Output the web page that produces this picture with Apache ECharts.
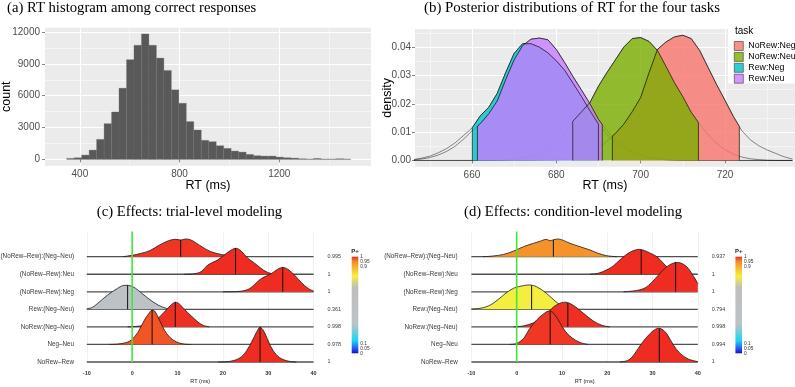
<!DOCTYPE html>
<html><head><meta charset="utf-8">
<script src="https://cdn.jsdelivr.net/npm/echarts@6/dist/echarts.min.js"></script>
<style>html,body{margin:0;padding:0;background:#fff}#c{width:795px;height:387px}</style>
</head><body><div id="c"></div>
<script>
// ---------- (a) histogram ----------
const binWidth = 30;
const histCenters = [362,392,422,452,482,512,542,572,602,632,662,692,722,752,782,812,842,872,902,932,962,992,1022,1052,1082,1112,1142,1172,1202,1232,1262,1292,1322,1352,1382,1412,1442,1472];
const histCounts  = [95,160,410,880,1890,3370,4470,6710,9390,10740,11810,10740,9540,8380,6550,5290,3560,2770,1800,1670,1290,1040,790,690,470,350,315,315,220,160,125,65,35,95,35,35,65,35];
const histXTicks = [400,800,1200];
const histXMinor = [600,1000,1400];
const histYTicks = [0,3000,6000,9000,12000];
const histYMinor = [1500,4500,7500,10500];

// ---------- (b) posterior densities ----------
const tasks = ['NoRew:Neg','NoRew:Neu','Rew:Neg','Rew:Neu'];
const densX = [646,648,650,652,654,656,658,660,662,664,666,668,670,672,674,676,678,680,682,684,686,688,690,692,694,696,698,700,702,704,706,708,710,712,714,716,718,720,722,724,726,728,730,732,734,736];
const densNoRewNeg = [0,0,0,0,0,0,0,0,0,0,0,0,0,0,0,0.0001,0.0001,0.0002,0.0004,0.0009,0.0016,0.0027,0.0042,0.0068,0.0095,0.0128,0.0172,0.0222,0.0310,0.0392,0.0418,0.0436,0.0442,0.0430,0.0388,0.0328,0.0268,0.0212,0.0155,0.0105,0.0073,0.0052,0.0037,0.0025,0.0013,0.0005];
const densNoRewNeu = [0,0,0,0,0,0,0,0,0,0,0.0001,0.0002,0.0004,0.0008,0.0015,0.0025,0.0040,0.0062,0.0095,0.0140,0.0172,0.0205,0.0262,0.0310,0.0355,0.0400,0.0430,0.0434,0.0420,0.0388,0.0332,0.0275,0.0225,0.0170,0.0128,0.0090,0.0060,0.0038,0.0022,0.0012,0.0006,0.0003,0.0001,0,0,0];
const densRewNeg = [0.0003,0.0008,0.0015,0.0027,0.0042,0.0062,0.0088,0.0114,0.0158,0.0188,0.0237,0.0310,0.0378,0.0412,0.0412,0.0400,0.0380,0.0352,0.0318,0.0272,0.0225,0.0175,0.0128,0.0092,0.0064,0.0043,0.0028,0.0017,0.0010,0.0005,0.0002,0.0001,0,0,0,0,0,0,0,0,0,0,0,0,0,0];
const densRewNeu = [0.0002,0.0005,0.0010,0.0019,0.0032,0.0050,0.0075,0.0104,0.0130,0.0165,0.0210,0.0285,0.0355,0.0405,0.0428,0.0432,0.0426,0.0392,0.0345,0.0295,0.0248,0.0200,0.0145,0.0105,0.0075,0.0052,0.0034,0.0022,0.0013,0.0007,0.0003,0.0001,0,0,0,0,0,0,0,0,0,0,0,0,0,0];
const ciLow   = [693.3, 683.9, 660.1, 661.3];
const ciHigh  = [723.4, 713.7, 690.0, 690.9];
const ciLowH  = [0.0086, 0.0138, 0.0116, 0.0121];
const ciHighH = [0.0120, 0.0134, 0.0128, 0.0127];
const densXTicks = [660,680,700,720];
const densXMinor = [650,670,690,710,730];
const densYTicks = [0,0.01,0.02,0.03,0.04];
const densYMinor = [0.005,0.015,0.025,0.035,0.045];

// ---------- (c)/(d) ridgelines (top row first) ----------
const rowNames = ['(NoRew–Rew):(Neg–Neu)','(NoRew–Rew):Neu','(NoRew–Rew):Neg','Rew:(Neg–Neu)','NoRew:(Neg–Neu)','Neg–Neu','NoRew–Rew'];
const pTrial = [0.995, 1, 1, 0.361, 0.998, 0.978, 1];
const pCond  = [0.937, 1, 1, 0.794, 0.998, 0.994, 1];
const medTrial = [10.7, 22.8, 33.2, -1.0, 9.5, 4.4, 28.2];
const medCond  = [8.1, 27.5, 35.1, 3.3, 11.3, 7.4, 31.5];
const ridgeTrial = [
  [[-2,0],[-1,0.038],[0,0.076],[2,0.19],[4,0.36],[6,0.66],[8,0.91],[9.5,0.99],[10.7,0.95],[11.8,1.01],[12.8,0.97],[14,0.80],[15.6,0.53],[17.4,0.28],[19.6,0.13],[21.8,0.038],[24,0]],
  [[11.5,0],[13.5,0.02],[15.2,0.15],[16.7,0.53],[18.9,0.82],[21.1,1.25],[22.8,1.48],[24,1.33],[25.5,0.91],[27,0.63],[28.4,0.34],[29.5,0.15],[30.7,0.04],[32,0]],
  [[20,0],[23,0.01],[25.5,0.13],[27,0.42],[28.5,0.76],[30.7,1.04],[32.1,1.29],[33.2,1.39],[34.3,1.29],[35.8,0.95],[37.3,0.53],[38.8,0.19],[40,0.04]],
  [[-10,0.04],[-8.9,0.095],[-7.6,0.34],[-5.4,0.82],[-3.2,1.20],[-2.1,1.35],[-1,1.37],[0.15,1.29],[1.25,1.10],[3.5,0.63],[5.7,0.25],[7.5,0.057],[9,0]],
  [[-1,0],[0.5,0.02],[2.7,0.095],[4.9,0.32],[7.1,0.85],[8.5,1.23],[9.5,1.41],[10.4,1.31],[11.5,1.01],[13,0.63],[14.5,0.28],[15.6,0.095],[17,0]],
  [[-5,0],[-3.2,0.02],[-1.3,0.11],[-0.2,0.25],[1.25,0.68],[2.7,1.39],[3.8,1.80],[4.4,1.96],[5.1,1.86],[6,1.39],[7.1,0.82],[8.2,0.44],[9.7,0.15],[11.5,0.02],[13,0]],
  [[19,0],[21.1,0.02],[23.3,0.17],[24.8,0.49],[26.3,1.12],[27.4,1.69],[28.2,1.98],[29,1.77],[29.9,1.25],[31,0.68],[32.5,0.25],[34.3,0.057],[36.2,0]]
];
const ridgeCond = [
  [[-7.4,0],[-5.2,0.04],[-2.9,0.13],[-0.7,0.32],[1.5,0.57],[3.7,0.76],[5.5,0.91],[6.5,0.99],[7.4,0.91],[8.2,0.97],[9.2,1.01],[10.3,0.93],[11.8,0.76],[13.3,0.63],[14.7,0.51],[16.2,0.38],[18,0.19],[19.9,0.057],[22.1,0]],
  [[16.2,0],[18,0.057],[19.9,0.25],[21.4,0.49],[23.2,0.91],[25,1.25],[26.9,1.42],[28,1.37],[29.5,1.20],[30.9,1.01],[32.4,0.63],[33.9,0.25],[35.7,0.04],[37.2,0]],
  [[23.6,0],[26.5,0.076],[28.4,0.23],[29.8,0.53],[31.3,0.95],[33.1,1.42],[35,1.67],[36.1,1.65],[37.6,1.42],[38.9,0.95],[40,0.47]],
  [[-10,0.02],[-7.4,0.095],[-5.2,0.34],[-2.9,0.82],[-0.7,1.20],[1.5,1.35],[2.9,1.39],[4.4,1.29],[6.6,0.91],[8.5,0.47],[10.3,0.15],[11.8,0.02],[12.9,0]],
  [[-0.7,0],[1.5,0.057],[3.7,0.23],[5.9,0.57],[7.7,1.04],[9.2,1.31],[10.7,1.41],[11.8,1.33],[13.3,1.08],[15.1,0.70],[16.9,0.34],[18.8,0.095],[20.6,0]],
  [[-1.5,0],[0,0.057],[1.5,0.34],[2.9,0.91],[4.4,1.39],[5.9,1.73],[7,1.90],[8,1.82],[9.2,1.39],[10.7,0.76],[12.2,0.38],[14,0.11],[15.8,0]],
  [[22.8,0],[24.7,0.11],[26.1,0.49],[27.6,1.06],[29.5,1.63],[31.1,1.92],[32,1.88],[33.1,1.63],[34.6,0.97],[36.1,0.49],[37.9,0.17],[40,0.02]]
];
const ridgeXTicks = [-10,0,10,20,30,40];
const cbarTicks = [0,0.05,0.1,0.9,0.95,1];

// colour scale for P+
const pStops  = [0, 0.05, 0.13, 0.3, 0.68, 0.8, 0.95, 1];
const pColors = ['#1414b4','#2d55ff','#18d8f0','#bcc3c6','#bebebe','#f7f03a','#f58a28','#ee2c22'];

const SANS = 'Liberation Sans, Arial, sans-serif';
const SERIF = 'Liberation Serif, Times New Roman, serif';

function hex2rgb(h){return [parseInt(h.slice(1,3),16),parseInt(h.slice(3,5),16),parseInt(h.slice(5,7),16)];}
function pColor(p){
  for (let i=0;i<pStops.length-1;i++){
    if (p<=pStops[i+1]){
      const t=(p-pStops[i])/(pStops[i+1]-pStops[i]);
      const a=hex2rgb(pColors[i]), b=hex2rgb(pColors[i+1]);
      return 'rgb('+a.map((v,k)=>Math.round(v+(b[k]-v)*t)).join(',')+')';
    }
  }
  return pColors[pColors.length-1];
}

function ridgeRender(ridges, meds, probs){
  return function(params, api){
    const i = params.dataIndex, row = 6 - i;
    const pts = ridges[i];
    const curve = pts.map(p => api.coord([p[0], row + p[1]]));
    const fillPts = curve.slice();
    if (pts[0][1] > 0) fillPts.unshift(api.coord([pts[0][0], row]));
    if (pts[pts.length-1][1] > 0) fillPts.push(api.coord([pts[pts.length-1][0], row]));
    const xs = fillPts.map(p=>p[0]), ys = fillPts.map(p=>p[1]);
    const cons = [[Math.min(...xs), Math.min(...ys)],[Math.max(...xs), Math.max(...ys)]];
    const m = meds[i]; let mh = 0;
    for (let k=0;k<pts.length-1;k++){
      if (pts[k][0]<=m && m<=pts[k+1][0]){const t=(m-pts[k][0])/(pts[k+1][0]-pts[k][0]); mh=pts[k][1]+t*(pts[k+1][1]-pts[k][1]);}
    }
    const mb = api.coord([m,row]), mt = api.coord([m,row+mh]);
    const L = api.coord([-10,row]), R = api.coord([40,row]);
    return {type:'group', children:[
      {type:'line', shape:{x1:L[0],y1:L[1],x2:R[0],y2:R[1]}, style:{stroke:'#505050', lineWidth:1.3}},
      {type:'polyline', shape:{points:fillPts, smooth:0.35, smoothConstraint:cons}, style:{fill:pColor(probs[i]), stroke:null}},
      {type:'polyline', shape:{points:curve, smooth:0.35, smoothConstraint:cons}, style:{fill:null, stroke:'#1a1a1a', lineWidth:0.8}},
      {type:'line', shape:{x1:mb[0],y1:mb[1],x2:mt[0],y2:mt[1]}, style:{stroke:'#111', lineWidth:1}}
    ]};
  };
}
function cbarRender(params, api){
  const p0 = api.coord([0,0]), p1 = api.coord([1,1]);
  return {type:'rect', shape:{x:p0[0], y:p1[1], width:p1[0]-p0[0], height:p0[1]-p1[1]},
    style:{fill: new echarts.graphic.LinearGradient(0,1,0,0, pStops.map((s,i)=>({offset:s, color:pColors[i]})))}};
}

const gray = '#4D4D4D';
function ggAxis(gridIndex, min, max, ticks, extra){
  return Object.assign({
    type:'value', gridIndex, min, max,
    axisLine:{show:false},
    axisTick:{show:true, length:3, customValues:ticks, lineStyle:{color:'#333', width:0.6}},
    axisLabel:{customValues:ticks, color:gray, fontSize:10, fontFamily:SANS},
    splitLine:{show:true, lineStyle:{color:'#fff', width:1}}
  }, extra||{});
}
function ggMinor(gridIndex, min, max, ticks){
  return {type:'value', gridIndex, min, max, axisLine:{show:false},
    axisTick:{show:false, customValues:ticks}, axisLabel:{show:false, customValues:ticks},
    splitLine:{show:true, lineStyle:{color:'#fff', width:0.5}}};
}

const taskFill = ['#F8766D','#7CAE00','#00BFC4','#C77CFF'];
const taskFillA = ['rgba(248,118,109,0.8)','rgba(124,174,0,0.8)','rgba(0,191,196,0.8)','rgba(199,124,255,0.8)'];
const densAll = [densNoRewNeg, densNoRewNeu, densRewNeg, densRewNeu];

const densSeries = [];
densAll.forEach((arr, t) => {
  densSeries.push({type:'line', name:'_o'+t, xAxisIndex:2, yAxisIndex:2, symbol:'none', silent:true,
    data: densX.map((x,i)=>[x, arr[i]]), lineStyle:{color:'#000', width:0.5, opacity:0.9}, z:2});
});
densAll.forEach((arr, t) => {
  const pts = [[ciLow[t],0],[ciLow[t],ciLowH[t]]];
  densX.forEach((x,i)=>{ if (x>ciLow[t] && x<ciHigh[t]) pts.push([x, arr[i]]); });
  pts.push([ciHigh[t],ciHighH[t]],[ciHigh[t],0]);
  densSeries.push({type:'line', name:tasks[t], xAxisIndex:2, yAxisIndex:2, symbol:'none', silent:true,
    data: pts, itemStyle:{color:taskFillA[t]}, lineStyle:{color:'#111', width:0.7},
    areaStyle:{color:taskFill[t], opacity:0.8}, z:3});
});

const ridgeY = (gi, pos, labels, margin, size) => ({
  type:'value', gridIndex:gi, min:0, max:7.43, position:pos,
  axisLine:{show:false}, axisTick:{show:false, customValues:[0,1,2,3,4,5,6]}, splitLine:{show:false},
  axisLabel:{customValues:[0,1,2,3,4,5,6], formatter:v=>labels[6-v], fontSize:size, color:'#3a3a3a', fontFamily:SANS, margin, padding:[0,0,2,0]}
});
const ridgeX = (gi) => ({
  type:'value', gridIndex:gi, min:-10, max:40, interval:10,
  axisLine:{show:false}, axisTick:{show:false},
  axisLabel:{fontSize:5.5, fontWeight:'bold', color:'#333', fontFamily:SANS, margin:8},
  splitLine:{show:true, lineStyle:{color:'#E6E6E6', width:0.6}},
  name:'RT (ms)', nameLocation:'middle', nameGap:16, nameMoveOverlap:false, nameTextStyle:{fontSize:5.5, color:'#222', fontFamily:SANS}
});
const cbarX = (gi) => ({type:'value', gridIndex:gi, min:0, max:1, show:false});
const cbarY = (gi) => ({type:'value', gridIndex:gi, min:0, max:1, position:'right',
  axisLine:{show:false}, axisTick:{show:false, customValues:cbarTicks}, splitLine:{show:false},
  axisLabel:{customValues:cbarTicks, formatter:v=>String(v), fontSize:4.8, color:'#333', fontFamily:SANS, margin:2, lineHeight:5}});

const fmtP = v => String(v);

const option = {
  animation:false,
  textStyle:{fontFamily:SANS},
  grid:[
    {left:45, top:27.7, width:326, height:138, show:true, backgroundColor:'#EBEBEB', borderWidth:0, outerBoundsMode:'none'},
    {left:415, top:29, width:380, height:137.7, show:true, backgroundColor:'#EBEBEB', borderWidth:0, outerBoundsMode:'none'},
    {left:86.8, top:231.6, width:226.8, height:130.4, outerBoundsMode:'none'},
    {left:471.4, top:231.6, width:226.4, height:130.4, outerBoundsMode:'none'},
    {left:351.7, top:256.7, width:6.6, height:96.6, outerBoundsMode:'none'},
    {left:735.4, top:256.7, width:6.6, height:96.6, outerBoundsMode:'none'}
  ],
  xAxis:[
    ggAxis(0, 260, 1568, histXTicks, {axisLabel:{customValues:histXTicks, formatter:v=>String(v), color:gray, fontSize:10, fontFamily:SANS, margin:4},
      name:'RT (ms)', nameLocation:'middle', nameGap:13, nameMoveOverlap:false, nameTextStyle:{fontSize:12.5, color:'#000'}}),
    ggMinor(0, 260, 1568, histXMinor),
    ggAxis(1, 646.5, 736.6, densXTicks, {axisLabel:{customValues:densXTicks, formatter:v=>String(v), color:gray, fontSize:10, fontFamily:SANS, margin:4},
      name:'RT (ms)', nameLocation:'middle', nameGap:12, nameMoveOverlap:false, nameTextStyle:{fontSize:12.5, color:'#000'}}),
    ggMinor(1, 646.5, 736.6, densXMinor),
    ridgeX(2), ridgeX(3), cbarX(4), cbarX(5)
  ],
  yAxis:[
    ggAxis(0, -590, 12400, histYTicks, {axisLabel:{customValues:histYTicks, formatter:v=>String(v), color:gray, fontSize:10, fontFamily:SANS, margin:5},
      name:'count', nameLocation:'middle', nameGap:32, nameMoveOverlap:false, nameTextStyle:{fontSize:12.5, color:'#000'}}),
    ggMinor(0, -590, 12400, histYMinor),
    ggAxis(1, -0.0022, 0.0464, densYTicks, {axisLabel:{customValues:densYTicks, formatter:v=>v.toFixed(2), color:gray, fontSize:10, fontFamily:SANS, margin:4},
      name:'density', nameLocation:'middle', nameGap:21, nameMoveOverlap:false, nameTextStyle:{fontSize:12.5, color:'#000'}}),
    ggMinor(1, -0.0022, 0.0464, densYMinor),
    ridgeY(2, 'left', rowNames, 12.8, 6.3),
    ridgeY(2, 'right', pTrial.map(fmtP), 14, 5.4),
    ridgeY(3, 'left', rowNames, 13.7, 6.3),
    ridgeY(3, 'right', pCond.map(fmtP), 14, 5.4),
    cbarY(4), cbarY(5)
  ],
  legend:{data:tasks, orient:'vertical', left:734, top:41.2, itemWidth:9, itemHeight:9, itemGap:1.3, icon:'rect', padding:0,
    selectedMode:false, textStyle:{fontSize:8.8, color:'#000', lineHeight:9, fontFamily:SANS},
    itemStyle:{borderColor:'#333', borderWidth:0.6}, z:6},
  graphic:[
    {type:'rect', shape:{x:728, y:22, width:67, height:61.5}, style:{fill:'#fff'}, z:5},
    {type:'text', x:735, y:31.5, style:{text:'task', font:'10px '+SANS, fill:'#000', textVerticalAlign:'middle'}, z:6},
    {type:'text', x:7, y:8, style:{text:'(a) RT histogram among correct responses', font:'14.7px '+SERIF, fill:'#000', textVerticalAlign:'middle'}},
    {type:'text', x:424, y:8, style:{text:'(b) Posterior distributions of RT for the four tasks', font:'14.9px '+SERIF, fill:'#000', textVerticalAlign:'middle'}},
    {type:'text', x:189.5, y:211.7, style:{text:'(c) Effects: trial-level modeling', font:'14.7px '+SERIF, fill:'#000', textAlign:'center', textVerticalAlign:'middle'}},
    {type:'text', x:573, y:211.7, style:{text:'(d) Effects: condition-level modeling', font:'14.7px '+SERIF, fill:'#000', textAlign:'center', textVerticalAlign:'middle'}},
    {type:'text', x:355, y:251, style:{text:'P+', font:'bold 6px '+SANS, fill:'#222', textAlign:'center', textVerticalAlign:'middle'}},
    {type:'text', x:738.7, y:251, style:{text:'P+', font:'bold 6px '+SANS, fill:'#222', textAlign:'center', textVerticalAlign:'middle'}}
  ],
  series:[
    {type:'custom', xAxisIndex:0, yAxisIndex:0, silent:true,
      data: histCenters.map((c,i)=>[c, histCounts[i]]), encode:{x:0, y:1},
      renderItem:(params, api)=>{
        const c = api.value(0), v = api.value(1);
        const p0 = api.coord([c - binWidth/2, 0]), p1 = api.coord([c + binWidth/2, v]);
        return {type:'rect', shape:{x:p0[0], y:p1[1], width:p1[0]-p0[0], height:p0[1]-p1[1]},
          style:{fill:'#595959', stroke:'#6e6e6e', lineWidth:0.3}};
      }},
    ...densSeries,
    {type:'custom', xAxisIndex:4, yAxisIndex:4, silent:true,
      data: rowNames.map((n,i)=>[medTrial[i], 6-i]), encode:{x:0, y:1},
      renderItem: ridgeRender(ridgeTrial, medTrial, pTrial), z:2},
    {type:'custom', xAxisIndex:5, yAxisIndex:6, silent:true,
      data: rowNames.map((n,i)=>[medCond[i], 6-i]), encode:{x:0, y:1},
      renderItem: ridgeRender(ridgeCond, medCond, pCond), z:2},
    {type:'line', xAxisIndex:4, yAxisIndex:4, data:[[0,0],[0,7.43]], symbol:'none', silent:true, lineStyle:{color:'#3CE83C', width:1.6}, z:5},
    {type:'line', xAxisIndex:5, yAxisIndex:6, data:[[0,0],[0,7.43]], symbol:'none', silent:true, lineStyle:{color:'#3CE83C', width:1.6}, z:5},
    {type:'custom', xAxisIndex:6, yAxisIndex:8, silent:true, data:[[0,0]], renderItem: cbarRender},
    {type:'custom', xAxisIndex:7, yAxisIndex:9, silent:true, data:[[0,0]], renderItem: cbarRender}
  ]
};
const chart = echarts.init(document.getElementById('c'), null, {renderer:'canvas'});
chart.setOption(option);
</script></body></html>
